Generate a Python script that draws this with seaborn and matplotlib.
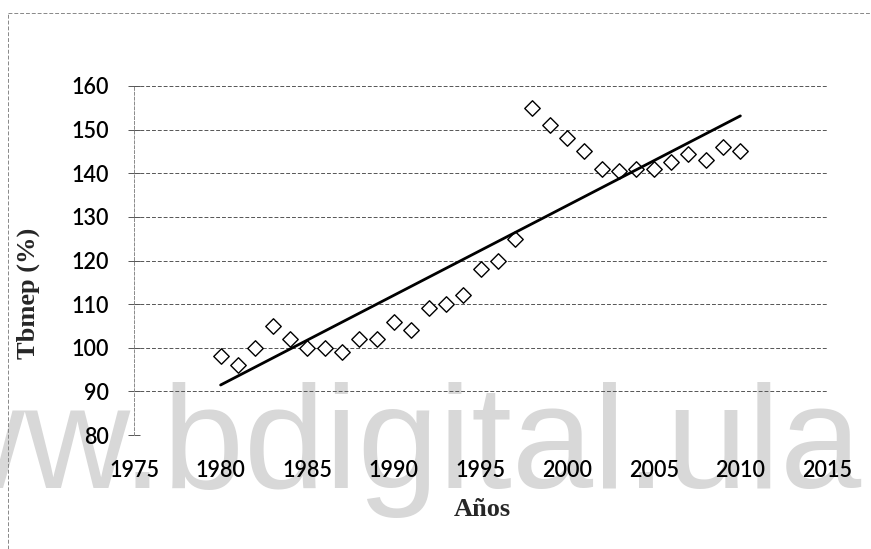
#!/usr/bin/env python3
"""
Tbmep (%) by year, 1980-2010, with linear trend line.
Scanned Excel-style scatter chart recreated with seaborn.
"""

import matplotlib

matplotlib.use("Agg")
import matplotlib.pyplot as plt
from matplotlib.lines import Line2D
import numpy as np
import seaborn as sns

# data
years = [1980, 1981, 1982, 1983, 1984, 1985, 1986, 1987, 1988, 1989,
         1990, 1991, 1992, 1993, 1994, 1995, 1996, 1997, 1998, 1999,
         2000, 2001, 2002, 2003, 2004, 2005, 2006, 2007, 2008, 2009, 2010]
tbmep = [98, 96, 100, 105, 102, 100, 100, 99, 102, 102,
         106, 104, 109, 110, 112, 118, 120, 125, 155, 151,
         148, 145, 141, 140.5, 141, 141, 142.5, 144.5, 143, 146, 145]

x_ticks = [1975, 1980, 1985, 1990, 1995, 2000, 2005, 2010, 2015]
y_ticks = [80, 90, 100, 110, 120, 130, 140, 150, 160]

sns.set_theme(style="white")
plt.rcParams["font.family"] = ["Lato", "DejaVu Sans"]

fig = plt.figure(figsize=(8.71, 5.49), dpi=100)
ax = fig.add_axes([134 / 871, 1 - 435 / 549, 693 / 871, 349 / 549])
ax.patch.set_facecolor("none")

# watermark behind the chart
fig.text(861 / 871, 1 - 488 / 549, "www.bdigital.ula", ha="right", va="baseline",
         fontsize=105, color="#d8d8d8", family="Liberation Sans", zorder=-5)

# outer chart-area border (dashed, scanned look)
fig.add_artist(Line2D([8 / 871, 1.0], [1 - 13 / 549] * 2, color="#888888",
                      lw=0.7, ls=(0, (4, 2))))
fig.add_artist(Line2D([8 / 871] * 2, [0.0, 1 - 13 / 549], color="#888888",
                      lw=0.7, ls=(0, (4, 2))))

sns.scatterplot(x=years, y=tbmep, marker="D", s=62, color="white",
                edgecolor="black", linewidth=1.0, ax=ax, zorder=3)
sns.regplot(x=years, y=tbmep, scatter=False, ci=None, truncate=True,
            line_kws=dict(color="black", lw=2.0, zorder=4), ax=ax)

ax.set_xlim(1975, 2015)
ax.set_ylim(80, 160)
ax.set_xticks(x_ticks)
ax.set_yticks(y_ticks)

ax.yaxis.grid(True, color="#555555", lw=0.7, ls=(0, (4, 2)))
ax.xaxis.grid(False)
for side in ["top", "right", "bottom"]:
    ax.spines[side].set_visible(False)
ax.spines["left"].set_color("#8a8a8a")
ax.spines["left"].set_linewidth(0.7)
ax.spines["left"].set_linestyle((0, (3, 2)))

ax.tick_params(axis="y", left=True, direction="inout", length=8, width=0.7,
               color="#555555", labelsize=15.5, pad=14)
ax.tick_params(axis="x", bottom=False, labelsize=15.5, pad=12)
for lab in ax.get_xticklabels() + ax.get_yticklabels():
    lab.set_color("black")
    lab.set_fontweight("semibold")

ax.set_xlabel("Años", family="Liberation Serif", fontweight="bold", fontsize=19)
ax.set_ylabel("Tbmep (%)", family="Liberation Serif", fontweight="bold", fontsize=19)
ax.xaxis.set_label_coords(0.502, -0.18)
ax.yaxis.set_label_coords(-0.1356, 0.407)

fig.savefig("out.png", dpi=100)
plt.close(fig)
